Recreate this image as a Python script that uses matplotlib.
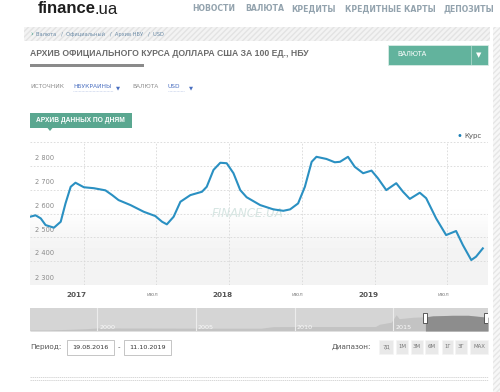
import matplotlib
matplotlib.use("Agg")
import matplotlib.pyplot as plt
from matplotlib.patches import Rectangle, Polygon
import numpy as np
import pandas as pd

# ---------------- data ----------------
dates = ["2016-08-19", "2016-09-02", "2016-09-15", "2016-09-27", "2016-10-18", "2016-11-04",
         "2016-11-16", "2016-11-29", "2016-12-11", "2017-01-01", "2017-01-26", "2017-02-24",
         "2017-03-13", "2017-03-29", "2017-04-28", "2017-05-31", "2017-06-29", "2017-07-16",
         "2017-07-28", "2017-08-14", "2017-08-31", "2017-09-25", "2017-10-24", "2017-11-05",
         "2017-11-22", "2017-12-09", "2017-12-25", "2018-01-11", "2018-01-28", "2018-02-13",
         "2018-03-19", "2018-04-21", "2018-05-16", "2018-06-02", "2018-06-22", "2018-07-09",
         "2018-07-26", "2018-08-07", "2018-09-01", "2018-09-22", "2018-10-05", "2018-10-25",
         "2018-11-11", "2018-12-02", "2018-12-23", "2019-01-08", "2019-01-29", "2019-02-23",
         "2019-03-12", "2019-03-29", "2019-04-23", "2019-05-09", "2019-06-03", "2019-06-28",
         "2019-07-23", "2019-08-09", "2019-08-30", "2019-09-11", "2019-09-28"]
rates = [2587, 2593, 2580, 2552, 2541, 2566,
         2643, 2713, 2730, 2711, 2707, 2698,
         2678, 2657, 2636, 2608, 2590, 2566,
         2555, 2587, 2650, 2678, 2692, 2713,
         2784, 2814, 2812, 2770, 2699, 2669,
         2636, 2618, 2612, 2618, 2643, 2713,
         2818, 2839, 2830, 2816, 2818, 2839,
         2797, 2770, 2781, 2749, 2699, 2728,
         2692, 2662, 2688, 2665, 2580, 2510,
         2527, 2468, 2405, 2419, 2454]

y_ticks = [2300, 2400, 2500, 2600, 2700, 2800]
y_labels = ["2 300", "2 400", "2 500", "2 600", "2 700", "2 800"]
x_ticks = ["2017-01-01", "2017-07-01", "2018-01-01", "2018-07-01", "2019-01-01", "2019-07-01"]
x_labels = ["2017", "июл", "2018", "июл", "2019", "июл"]
period = ("2016-08-19", "2019-10-11")

nav_years = [1996.6, 1997.5, 1998.6, 1999.5, 2000.0, 2002.0, 2005.2, 2008.3, 2008.9, 2009.5,
             2012.0, 2014.1, 2014.3, 2014.9, 2015.15, 2015.3, 2016.0, 2016.7, 2017.0, 2018.0,
             2018.8, 2019.5, 2019.8]
nav_vals = [180, 185, 300, 420, 540, 530, 505, 500, 770, 790,
            799, 800, 1200, 1570, 2900, 2200, 2450, 2550, 2700, 2800,
            2800, 2550, 2450]
nav_year_labels = [2000, 2005, 2010, 2015]
range_buttons = ["7Д", "1М", "3М", "6М", "1Г", "3Г", "MAX"]

# ---------------- figure ----------------
W, H = 500, 392
fig = plt.figure(figsize=(W / 100, H / 100), dpi=100)
fig.patch.set_facecolor("white")
LIB = ["Liberation Sans", "DejaVu Sans"]


def fx(x):
    return x / W


def fy(y):
    return 1 - y / H


def txt(x, y, s, **kw):
    kw.setdefault("va", "center")
    kw.setdefault("ha", "left")
    fig.text(fx(x), fy(y), s, **kw)


def rect(x0, y0, x1, y1, **kw):
    fig.patches.append(Rectangle((fx(x0), fy(y1)), fx(x1) - fx(x0), fy(y0) - fy(y1),
                                 transform=fig.transFigure, figure=fig, **kw))


# header
txt(38, 8.5, "finance", fontsize=12, fontweight="bold", color="#1e1e1e", family=LIB)
txt(95, 9, ".ua", fontsize=12, color="#1e1e1e", family=LIB)
for x, s in [(192, "НОВОСТИ"), (245, "ВАЛЮТА"), (291, "КРЕДИТЫ"), (345, "КРЕДИТНЫЕ КАРТЫ"), (443, "ДЕПОЗИТЫ")]:
    txt(x, 8.5, s, fontsize=5.6, fontweight="bold", color="#93a3ae")

# breadcrumb bar
rect(24, 27, 490, 41, facecolor="#f3f3f3", edgecolor="#e3e3e3", hatch="//////", linewidth=0)
rect(493, 27, 500, 392, facecolor="#f7f7f7", edgecolor="#e6e6e6", hatch="//////", linewidth=0)
txt(30, 34, "›", fontsize=5, color="#3a9c86")
txt(36, 34, "Валюта   /  Официальный   /  Архив НБУ   /  USD", fontsize=3.7, color="#6a8aa6")

# title
txt(30, 53, "АРХИВ ОФИЦИАЛЬНОГО КУРСА ДОЛЛАРА США ЗА 100 ЕД., НБУ",
    fontsize=6.2, fontweight="bold", color="#6b6b6b", family=LIB)
rect(30, 64, 144, 66.5, facecolor="#8a8a8a", linewidth=0)

# valuta button
rect(388, 45, 488, 64.5, facecolor="#62b39d", edgecolor="#d8ece6", linewidth=0.6)
fig.lines.append(plt.Line2D([fx(470.5)] * 2, [fy(46), fy(63.5)], transform=fig.transFigure,
                            color="#9fd2c4", linewidth=0.7))
txt(397, 55, "ВАЛЮТА", fontsize=5.0, color="white", family=LIB)
txt(479, 55, "▼", fontsize=5, color="white", ha="center")

# source row
txt(30, 87, "ИСТОЧНИК", fontsize=4.2, color="#8d8d8d")
txt(73, 87, "НБУКРАИНЫ", fontsize=4.2, color="#4a6fc0")
fig.lines.append(plt.Line2D([fx(73), fx(113)], [fy(91)] * 2, transform=fig.transFigure,
                            color="#b9c7e6", linewidth=0.5, linestyle=(0, (1, 1))))
txt(118, 87.5, "▼", fontsize=3.8, color="#4a6fc0", ha="center")
txt(132, 87, "ВАЛЮТА", fontsize=4.2, color="#8d8d8d")
txt(168, 87, "USD", fontsize=4.2, color="#4a6fc0")
fig.lines.append(plt.Line2D([fx(168), fx(184)], [fy(91)] * 2, transform=fig.transFigure,
                            color="#b9c7e6", linewidth=0.5, linestyle=(0, (1, 1))))
txt(191, 87.5, "▼", fontsize=3.8, color="#4a6fc0", ha="center")

# tab
rect(29.5, 112.5, 131.5, 127.5, facecolor="#5aa790", linewidth=0)
fig.patches.append(Polygon([(fx(47), fy(127.4)), (fx(53), fy(127.4)), (fx(50), fy(131))],
                           closed=True, transform=fig.transFigure, figure=fig,
                           facecolor="#5aa790", linewidth=0))
txt(80.5, 120, "АРХИВ ДАННЫХ ПО ДНЯМ", fontsize=4.8, fontweight="bold", color="white", ha="center",
    family=LIB)

# ---------------- main chart ----------------
ax = fig.add_axes([fx(30), fy(285), fx(488) - fx(30), fy(142.3) - fy(285)])
d = pd.to_datetime(dates)
ax.set_xlim(pd.Timestamp(period[0]), pd.Timestamp(period[1]))
ax.set_ylim(2300, 2900)

grad = np.array([[0.955], [0.952], [0.955], [0.965], [0.985], [1.0], [1.0], [1.0], [1.0], [1.0]])
ax.imshow(grad, extent=[0, 1, 0, 1], transform=ax.transAxes, aspect="auto", cmap="gray",
          vmin=0, vmax=1, origin="lower", interpolation="bicubic", zorder=0)

for spine in ax.spines.values():
    spine.set_visible(False)
ax.set_yticks(y_ticks + [2900])
ax.set_yticklabels([])
ax.set_xticks(pd.to_datetime(x_ticks))
ax.set_xticklabels([])
ax.tick_params(length=0)
ax.grid(True, color="#d8d8d8", linestyle=(0, (2, 2)), linewidth=0.6)
ax.set_axisbelow(True)

for v, lab in zip(y_ticks, y_labels):
    ax.annotate(lab, xy=(0, v), xycoords=("axes fraction", "data"),
                xytext=(3.5, 3.0 if v == 2300 else 3.5),
                textcoords="offset points", fontsize=4.8, color="#8a8a8a", va="bottom")

for t, lab in zip(pd.to_datetime(x_ticks), x_labels):
    bold = lab != "июл"
    ax.annotate(lab, xy=(t, 0), xycoords=("data", "axes fraction"), xytext=(-5 if bold else -3, -5),
                textcoords="offset points", ha="center", va="top",
                fontsize=5.2 if bold else 4.0, fontweight="bold" if bold else "normal",
                color="#555555" if bold else "#8a8a8a")

ax.plot(d, rates, color="#2a90c2", linewidth=1.5, solid_joinstyle="round", zorder=3)

ax.text(0.475, 0.5, "FINANCE.UA", transform=ax.transAxes, ha="center", va="center",
        fontsize=8.5, style="italic", color="#d6e5e2", zorder=1)

# legend
txt(459, 136, "•", fontsize=7, color="#1b7fb5", ha="center")
txt(464, 136, "Курс", fontsize=5, color="#555555")

# ---------------- navigator ----------------
nav = fig.add_axes([fx(30), fy(331), fx(488) - fx(30), fy(308) - fy(331)])
nav.set_xlim(1996.6, 2019.8)
nav.set_ylim(0, 4100)
nav.set_facecolor("#d5d5d5")
for spine in nav.spines.values():
    spine.set_visible(False)
nav.set_xticks([])
nav.set_yticks([])
ny = np.array(nav_years)
nv = np.array(nav_vals)
nav.fill_between(ny, nv, 0, color="#c3c3c3", linewidth=0)
sel = 2016.63
mask = ny >= sel
xs = np.concatenate([[sel], ny[mask]])
vs = np.concatenate([[np.interp(sel, ny, nv)], nv[mask]])
nav.fill_between(xs, vs, 0, color="#8d8d8d", linewidth=0)
for yr in nav_year_labels:
    nav.axvline(yr, color="#ececec", linewidth=0.8)
    nav.text(yr + 0.1, 250, str(yr), fontsize=4.6, color="#fafafa", va="bottom")
for hx in [sel, 2019.72]:
    nav.add_patch(Rectangle((hx - 0.1, 1500), 0.2, 1700, facecolor="white", edgecolor="#444444",
                            linewidth=0.6, zorder=5))

# ---------------- period / range ----------------
txt(30, 347.5, "Период:", fontsize=5.2, color="#555555")
rect(67, 340, 114, 355, facecolor="white", edgecolor="#bbbbbb", linewidth=0.6)
txt(90.5, 347.5, "19.08.2016", fontsize=4.6, color="#333333", ha="center")
txt(119, 347.5, "-", fontsize=5, color="#555555", ha="center")
rect(124, 340, 171, 355, facecolor="white", edgecolor="#bbbbbb", linewidth=0.6)
txt(147.5, 347.5, "11.10.2019", fontsize=4.6, color="#333333", ha="center")

txt(332, 347, "Диапазон:", fontsize=5.2, color="#555555")
bx = [(379, 393), (396, 408), (411, 423), (425, 438), (442, 453), (455, 467), (470, 488)]
for (x0, x1), lab in zip(bx, range_buttons):
    rect(x0, 340, x1, 354, facecolor="#e9e9e9", edgecolor="#f5f5f5", linewidth=0.5)
    txt((x0 + x1) / 2, 347, lab, fontsize=3.9, color="#777777", ha="center")

for yy in [377, 380]:
    fig.lines.append(plt.Line2D([fx(30), fx(488)], [fy(yy)] * 2, transform=fig.transFigure,
                                color="#c8c8c8", linewidth=0.5, linestyle=(0, (2, 1))))

fig.savefig("out.png", dpi=100, facecolor="white")
